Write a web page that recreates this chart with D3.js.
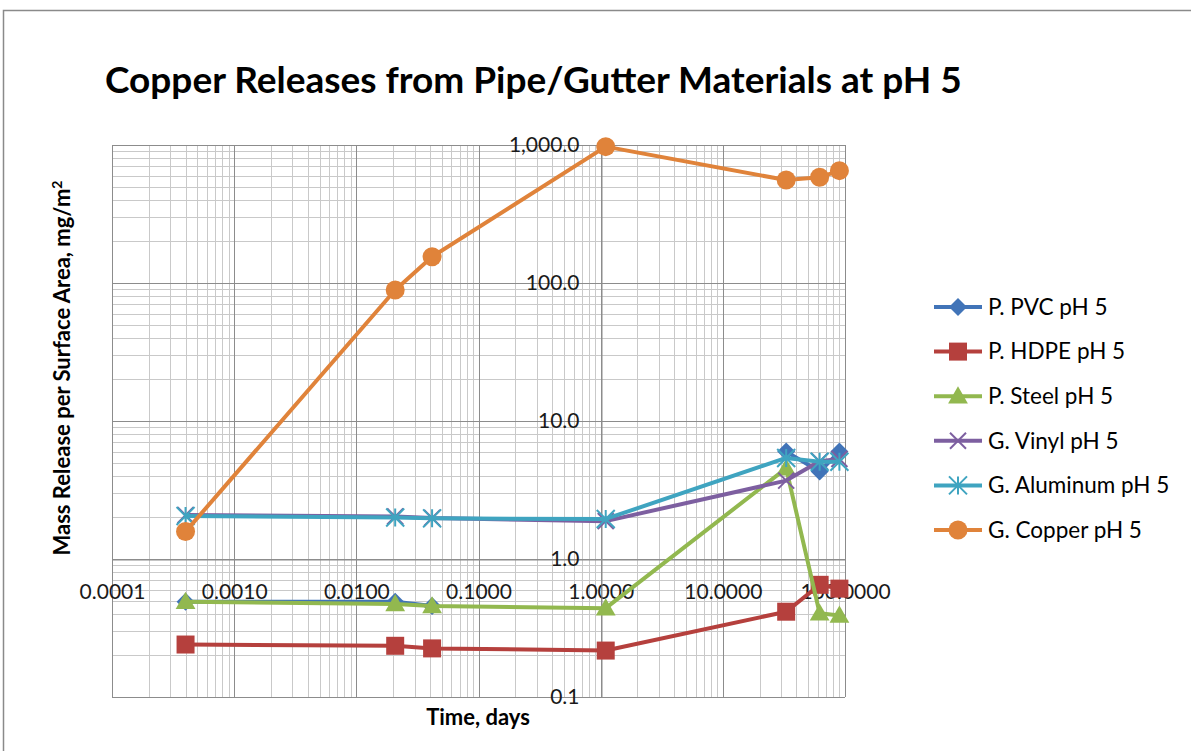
<!DOCTYPE html>
<meta charset="utf-8">
<title>Copper Releases from Pipe/Gutter Materials at pH 5</title>
<style>
body { margin: 0; background: #fff; }
text { font-family: Lato, "Open Sans", sans-serif; fill: #000; }
.grid-minor line { stroke: #c9c9c9; stroke-width: 1; }
.grid-major line { stroke: #8c8c8c; stroke-width: 1; }
.axis text { font-size: 21px; fill: #1a1a1a; }
.axis path.domain { stroke: #8c8c8c; }
</style>
<body>
<div id="chart"></div>
<script src="https://cdn.jsdelivr.net/npm/d3@7"></script>
<script>
  // sample times (days) and copper release per surface area (mg/m2)
  var days = [0.0004, 0.0208, 0.0417, 1.1, 33, 62, 90];
  var pvc      = [0.49, 0.49, 0.456, null, 6.0, 4.3, 6.0];
  var hdpe     = [0.24, 0.235, 0.225, 0.217, 0.415, 0.65, 0.61];
  var steel    = [0.49, 0.472, 0.456, 0.44, 4.54, 0.404, 0.39];
  var vinyl    = [2.08, 2.03, 1.98, 1.88, 3.7, 5.1, 5.3];
  var aluminum = [2.05, 2.0, 1.97, 1.95, 5.4, 5.07, 5.07];
  var copper   = [1.58, 89, 155, 973, 557, 583, 652];

  var seriesNames = ["P. PVC pH 5", "P. HDPE pH 5", "P. Steel pH 5",
                     "G. Vinyl pH 5", "G. Aluminum pH 5", "G. Copper pH 5"];
  var seriesValues = [pvc, hdpe, steel, vinyl, aluminum, copper];
  var seriesColors = ["#4174B8", "#B5403D", "#92B84F", "#7D5FA0", "#3FA4C0", "#E0833A"];
  var seriesShapes = ["diamond", "square", "triangle", "x", "asterisk", "circle"];

  var xTicks = [0.0001, 0.001, 0.01, 0.1, 1, 10, 100];
  var yTicks = [0.1, 1, 10, 100, 1000];

  var W = 1191, H = 751;
  var plot = {left: 112, right: 845, top: 145, bottom: 697};

  var svg = d3.select("#chart").append("svg")
      .attr("width", W)
      .attr("height", H);

  // outer frame (runs off the page at right / bottom)
  svg.append("rect")
      .attr("x", 3.5).attr("y", 10.5)
      .attr("width", 1300).attr("height", 900)
      .attr("fill", "none").attr("stroke", "#8a8a8a").attr("stroke-width", 1.5);

  var x = d3.scaleLog().domain([0.0001, 100]).range([plot.left, plot.right]);
  var y = d3.scaleLog().domain([0.1, 1000]).range([plot.bottom, plot.top]);

  // minor grid first (1..9 per decade), then major on top
  var xMinor = x.ticks(20), yMinor = y.ticks(20);
  var minor = svg.append("g").attr("class", "grid-minor");
  minor.selectAll("line.v").data(xMinor).enter().append("line")
      .attr("x1", function(d) { return Math.round(x(d)) + 0.5; })
      .attr("x2", function(d) { return Math.round(x(d)) + 0.5; })
      .attr("y1", plot.top).attr("y2", plot.bottom);
  minor.selectAll("line.h").data(yMinor).enter().append("line")
      .attr("y1", function(d) { return Math.round(y(d)) + 0.5; })
      .attr("y2", function(d) { return Math.round(y(d)) + 0.5; })
      .attr("x1", plot.left).attr("x2", plot.right);

  var major = svg.append("g").attr("class", "grid-major");
  major.selectAll("line.v").data(xTicks).enter().append("line")
      .attr("x1", function(d) { return Math.round(x(d)) + 0.5; })
      .attr("x2", function(d) { return Math.round(x(d)) + 0.5; })
      .attr("y1", plot.top).attr("y2", plot.bottom);
  major.selectAll("line.h").data(yTicks).enter().append("line")
      .attr("y1", function(d) { return Math.round(y(d)) + 0.5; })
      .attr("y2", function(d) { return Math.round(y(d)) + 0.5; })
      .attr("x1", plot.left).attr("x2", plot.right);

  // axes cross at 1.0 / 1.0, like the original workbook
  svg.append("g").attr("class", "axis")
      .attr("transform", "translate(0," + (Math.round(y(1)) + 0.5) + ")")
      .call(d3.axisBottom(x).tickValues(xTicks).tickFormat(d3.format(".4f"))
            .tickSize(0).tickPadding(25));
  svg.append("g").attr("class", "axis")
      .attr("transform", "translate(" + (Math.round(x(1)) + 0.5) + ",0)")
      .call(d3.axisLeft(y).tickValues(yTicks).tickFormat(d3.format(",.1f"))
            .tickSize(0).tickPadding(22));

  // marker paths
  function marker(shape, s) {
    var h = s / 2;
    if (shape == "diamond") return "M0," + (-h) + "L" + h + ",0L0," + h + "L" + (-h) + ",0Z";
    if (shape == "square") return "M" + (-h) + "," + (-h) + "h" + s + "v" + s + "h" + (-s) + "Z";
    if (shape == "triangle") return "M0," + (-h * 1.1) + "L" + (h * 1.1) + "," + (h * 0.8) + "L" + (-h * 1.1) + "," + (h * 0.8) + "Z";
    if (shape == "circle") return d3.symbol(d3.symbolCircle, Math.PI * h * h)();
    if (shape == "x") return "M" + (-h) + "," + (-h) + "L" + h + "," + h + "M" + (-h) + "," + h + "L" + h + "," + (-h);
    if (shape == "asterisk") return "M" + (-h) + "," + (-h) + "L" + h + "," + h + "M" + (-h) + "," + h + "L" + h + "," + (-h) +
                                    "M0," + (-h) + "L0," + h;
  }
  var markerSize = {diamond: 18, square: 18, triangle: 18, circle: 19, x: 16, asterisk: 18};

  function drawMarker(sel, shape, color) {
    var stroked = (shape == "x" || shape == "asterisk");
    sel.attr("d", marker(shape, markerSize[shape]))
       .attr("fill", stroked ? "none" : color)
       .attr("stroke", stroked ? color : "none")
       .attr("stroke-width", stroked ? 2 : 0);
  }

  var line = d3.line()
      .defined(function(d) { return d[1] != null; })
      .x(function(d) { return x(d[0]); })
      .y(function(d) { return y(d[1]); });

  seriesValues.forEach(function(vals, i) {
    var pts = days.map(function(t, k) { return [t, vals[k]]; });
    var g = svg.append("g");
    g.append("path")
        .attr("d", line(pts))
        .attr("fill", "none")
        .attr("stroke", seriesColors[i])
        .attr("stroke-width", 4)
        .attr("stroke-linejoin", "round");
    g.selectAll("path.pt").data(pts.filter(function(d) { return d[1] != null; }))
      .enter().append("path")
        .attr("class", "pt")
        .attr("transform", function(d) { return "translate(" + x(d[0]) + "," + y(d[1]) + ")"; })
        .each(function() { drawMarker(d3.select(this), seriesShapes[i], seriesColors[i]); });
  });

  // titles
  svg.append("text")
      .attr("x", 105).attr("y", 93)
      .attr("font-size", 37).attr("font-weight", "bold")
      .text("Copper Releases from Pipe/Gutter Materials at pH 5");

  svg.append("text")
      .attr("x", 478).attr("y", 725)
      .attr("text-anchor", "middle")
      .attr("font-size", 22).attr("font-weight", "bold")
      .text("Time, days");

  var yt = svg.append("text")
      .attr("transform", "translate(70,368) rotate(-90)")
      .attr("text-anchor", "middle")
      .attr("font-size", 22).attr("font-weight", "bold");
  yt.append("tspan").text("Mass Release per Surface Area, mg/m");
  yt.append("tspan").attr("dy", -8).attr("font-size", 14).text("2");

  // legend
  var legend = svg.append("g").attr("transform", "translate(934,307)");
  seriesNames.forEach(function(name, i) {
    var row = legend.append("g").attr("transform", "translate(0," + (i * 44.6) + ")");
    row.append("line")
        .attr("x1", 0).attr("x2", 48)
        .attr("stroke", seriesColors[i]).attr("stroke-width", 4);
    row.append("path")
        .attr("transform", "translate(24,0)")
        .call(function(s) { drawMarker(s, seriesShapes[i], seriesColors[i]); });
    row.append("text")
        .attr("x", 54).attr("dy", "0.35em")
        .attr("font-size", 22.5)
        .text(name);
  });
</script>
</body>
